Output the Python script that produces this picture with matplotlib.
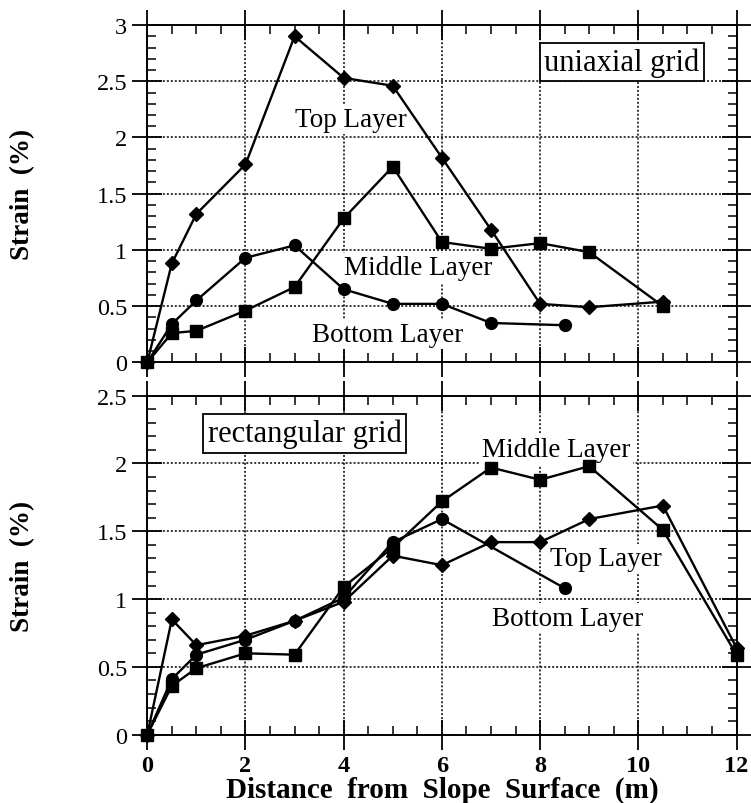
import matplotlib
matplotlib.use("Agg")
import matplotlib.pyplot as plt
from matplotlib.ticker import MultipleLocator, FuncFormatter

plt.rcParams['font.family'] = ['Liberation Serif', 'DejaVu Serif']

# uniaxial grid (top panel)
uni_top_x = [0, 0.5, 1, 2, 3, 4, 5, 6, 7, 8, 9, 10.5]
uni_top_y = [0, 0.88, 1.32, 1.76, 2.90, 2.53, 2.46, 1.82, 1.18, 0.52, 0.49, 0.54]
uni_mid_x = [0, 0.5, 1, 2, 3, 4, 5, 6, 7, 8, 9, 10.5]
uni_mid_y = [0, 0.26, 0.28, 0.46, 0.67, 1.28, 1.74, 1.07, 1.01, 1.06, 0.98, 0.50]
uni_bot_x = [0, 0.5, 1, 2, 3, 4, 5, 6, 7, 8.5]
uni_bot_y = [0, 0.34, 0.55, 0.93, 1.04, 0.65, 0.52, 0.52, 0.35, 0.33]

# rectangular grid (bottom panel)
rect_top_x = [0, 0.5, 1, 2, 3, 4, 5, 6, 7, 8, 9, 10.5, 12]
rect_top_y = [0, 0.85, 0.66, 0.73, 0.84, 0.98, 1.32, 1.25, 1.42, 1.42, 1.59, 1.69, 0.64]
rect_mid_x = [0, 0.5, 1, 2, 3, 4, 5, 6, 7, 8, 9, 10.5, 12]
rect_mid_y = [0, 0.36, 0.49, 0.60, 0.59, 1.09, 1.38, 1.72, 1.97, 1.88, 1.98, 1.51, 0.59]
rect_bot_x = [0, 0.5, 1, 2, 3, 4, 5, 6, 8.5]
rect_bot_y = [0, 0.41, 0.59, 0.70, 0.84, 1.01, 1.42, 1.59, 1.08]

fig = plt.figure(figsize=(7.51, 8.04), dpi=100)
ax1 = fig.add_axes([0.1961, 0.5481, 0.7846, 0.4195])
ax2 = fig.add_axes([0.1961, 0.0850, 0.7846, 0.4216])

line_kw = dict(color='black', lw=1.7, clip_on=False, zorder=3)


def style_axes(ax, ymax):
    ax.set_xlim(0, 12)
    ax.set_ylim(0, ymax)
    ax.xaxis.set_major_locator(MultipleLocator(2))
    ax.xaxis.set_minor_locator(MultipleLocator(0.5))
    ax.yaxis.set_major_locator(MultipleLocator(0.5))
    ax.yaxis.set_minor_locator(MultipleLocator(0.1))
    ax.yaxis.set_major_formatter(FuncFormatter(lambda v, p: '%g' % v))
    ax.tick_params(which='major', direction='inout', length=21, width=1.3,
                   top=True, right=True, labelsize=17.5, pad=4)
    ax.tick_params(which='minor', direction='in', length=6.5, width=1.1,
                   top=True, right=True)
    for s in ax.spines.values():
        s.set_linewidth(1.4)
    ax.set_axisbelow(True)
    ax.grid(True, which='major', color='black', lw=1.1, linestyle=(0, (1.3, 1.3)))
    ax.set_ylabel('Strain  (%)', fontsize=19.5, fontweight='bold')
    ax.yaxis.set_label_coords(-0.19, 0.5)


# top panel
style_axes(ax1, 3)
ax1.tick_params(labelbottom=False)
ax1.plot(uni_bot_x, uni_bot_y, marker='o', ms=8.5, **line_kw)
ax1.plot(uni_top_x, uni_top_y, marker='D', ms=7, **line_kw)
ax1.plot(uni_mid_x, uni_mid_y, marker='s', ms=8.5, **line_kw)

lab_kw = dict(fontsize=19.5, ha='center', va='center', zorder=1,
              bbox=dict(boxstyle='square,pad=0.08', fc='white', ec='none'))
ax1.text(4.15, 2.16, 'Top Layer', **lab_kw)
ax1.text(5.51, 0.84, 'Middle Layer', **lab_kw)
ax1.text(4.9, 0.245, 'Bottom Layer', **lab_kw)
ax1.text(9.67, 2.67, 'uniaxial grid', fontsize=22, ha='center', va='center', zorder=1,
         bbox=dict(boxstyle='square,pad=0.15', fc='white', ec='black', lw=1.3))

# bottom panel
style_axes(ax2, 2.5)
for lbl in ax2.get_xticklabels():
    lbl.set_fontweight('bold')
ax2.plot(rect_bot_x, rect_bot_y, marker='o', ms=8.5, **line_kw)
ax2.plot(rect_top_x, rect_top_y, marker='D', ms=7, **line_kw)
ax2.plot(rect_mid_x, rect_mid_y, marker='s', ms=8.5, **line_kw)

ax2.text(8.33, 2.10, 'Middle Layer', **lab_kw)
ax2.text(9.34, 1.30, 'Top Layer', **lab_kw)
ax2.text(8.56, 0.86, 'Bottom Layer', **lab_kw)
ax2.text(3.21, 2.22, 'rectangular grid', fontsize=22, ha='center', va='center', zorder=1,
         bbox=dict(boxstyle='square,pad=0.15', fc='white', ec='black', lw=1.3))
ax2.set_xlabel('Distance  from  Slope  Surface  (m)', fontsize=21,
               fontweight='bold', labelpad=0)

fig.savefig('out.png', dpi=100)
